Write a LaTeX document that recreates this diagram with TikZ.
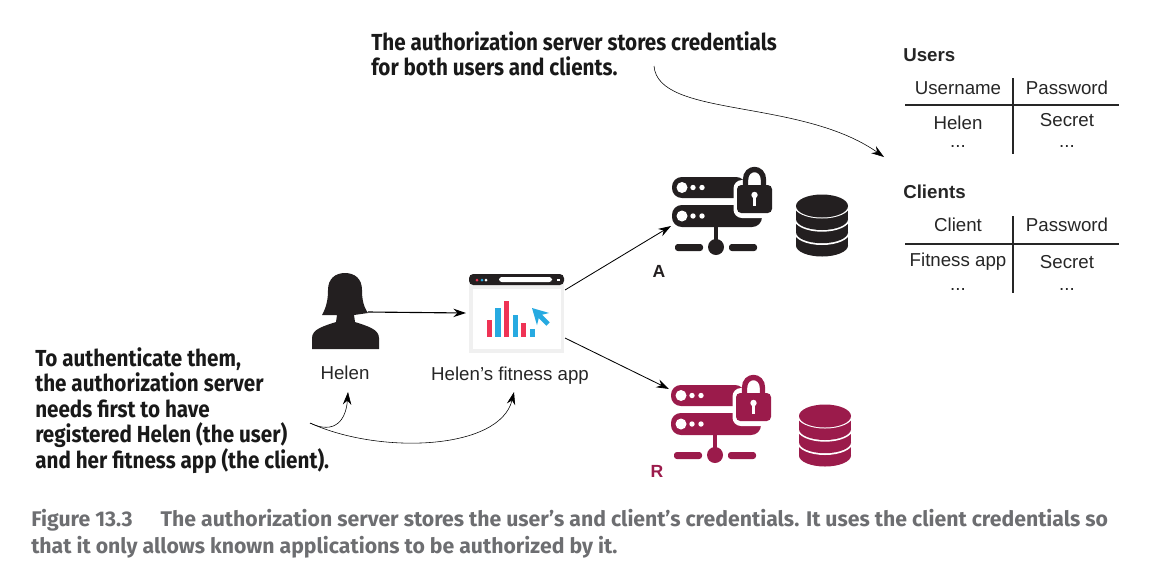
\documentclass[tikz,border=0pt]{standalone}
\usepackage{fontspec}
\usepackage{xcolor}
\usetikzlibrary{arrows.meta}
\setmainfont{Liberation Sans}
\newfontfamily\notefont[FakeStretch=0.89]{Fira Sans}
\newfontfamily\capfont{Fira Sans}
\definecolor{iconblack}{HTML}{231F20}
\definecolor{iconred}{HTML}{9B1B4B}
\definecolor{barred}{HTML}{EF3355}
\definecolor{barblue}{HTML}{27AAE1}
\definecolor{capgrey}{HTML}{6D6E71}
\tikzset{
  >={Stealth[length=9pt,width=6pt]},
  label/.style={font=\fontsize{13.3}{15}\selectfont,text=black!85,inner sep=0pt},
  heading/.style={font=\fontsize{13.3}{15}\selectfont\bfseries,text=black!85,inner sep=0pt,anchor=west},
  note/.style={font=\fontsize{16.5}{18.2}\selectfont\notefont\bfseries,text=black!90,inner sep=0pt,anchor=north west,align=left},
  caption/.style={font=\fontsize{15.1}{19.2}\selectfont\capfont\bfseries,text=capgrey,inner sep=0pt,anchor=north west,align=left},
  rule/.style={line width=0.8pt,black!85},
  servericon/.pic={
    \fill[rounded corners=7pt] (-44,-23) rectangle (30,-2);
    \fill[rounded corners=7pt] (-44,5) rectangle (46,27);
    \fill[white,rounded corners=6pt] (17.5,-20) rectangle (62,18);
    \fill[white] (-34,-12.5) circle [radius=5.5];
    \fill[white] (-23,-12.5) circle [radius=2.7];
    \fill[white] (-14,-12.5) circle [radius=2.7];
    \fill[white] (-34,16) circle [radius=5.5];
    \fill[white] (-23,16) circle [radius=2.7];
    \fill[white] (-14,16) circle [radius=2.7];
    \fill[rounded corners=3pt] (21,-15) rectangle (56,13);
    \draw[line width=3.8pt] (29.5,-14) -- (29.5,-20) .. controls (29.5,-34) and (47.5,-34) .. (47.5,-20) -- (47.5,-14);
    \fill[white] (38.5,-5) circle [radius=3.2];
    \fill[white] (37,-4) rectangle (40,6);
    \fill (-2,26) rectangle (2,47);
    \fill[rounded corners=2pt] (-41,44) rectangle (-13,51);
    \fill[rounded corners=2pt] (13,44) rectangle (41,51);
    \fill (0,47) circle [radius=8];
  },
  dbicon/.pic={
    \foreach \ly in {19.5,6.2,-7}{
      \fill (0,\ly) ellipse [x radius=26,y radius=11];
      \fill (-26,\ly-10) rectangle (26,\ly);
      \fill[white] (0,\ly-13.3) ellipse [x radius=28,y radius=12.8];
    }
    \fill (0,-20) ellipse [x radius=26,y radius=11.5];
  },
}

\begin{document}
\begin{tikzpicture}[x=0.025cm,y=-0.025cm]
\useasboundingbox (0,0) rectangle (1156,575);

\node [note] (topnote) at (371,31) {The authorization server stores credentials\\for both users and clients.};
\node [note] (leftnote) at (35,347) {To authenticate them,\\the authorization server\\needs first to have\\registered Helen (the user)\\and her fitness app (the client).};

\fill [iconblack] (312,349) -- (312,338) .. controls (312,329) and (324,326) .. (336,322) -- (337,315) -- (322,315) .. controls (327,306) and (328,298) .. (328,290) .. controls (328,279) and (335,273) .. (345,273) .. controls (355,273) and (362,279) .. (362,290) .. controls (362,298) and (363,306) .. (368,313) -- (354,315) -- (355,322) .. controls (367,326) and (379,329) .. (379,338) -- (379,349) -- cycle;
\node [label] (helen) at (345,373) {Helen};

\fill [black!6] (469,278) rectangle (564,353);
\fill [white] (473,289) rectangle (561,349);
\fill [iconblack,rounded corners=3pt] (469,285) -- (469,274) -- (564,274) -- (564,285) -- cycle;
\fill [white,rounded corners=2pt] (499,277) rectangle (552,282);
\fill [barred] (477,280) circle [radius=1.5];
\fill [barblue] (482,280) circle [radius=1.5];
\fill [white] (486,280) circle [radius=1.5];
\fill [white] (557,279) rectangle (560,281);
\fill [barred] (487,320) rectangle (492,337);
\fill [barblue] (495,308) rectangle (501,337);
\fill [barred] (504,301) rectangle (509,337);
\fill [barblue] (513,315) rectangle (518,337);
\fill [barred] (521,323) rectangle (526,337);
\fill [barblue] (530,329) rectangle (535,337);
\draw [barblue,line width=3.5pt,-{Stealth[length=11pt,width=12pt]}] (548,324) -- (532,308);
\node [label] (app) at (510,376) {Helen’s fitness app};

\pic [color=iconblack] (serverA) at (716,200) {servericon};
\pic [color=iconblack] (dbA) at (822,226) {dbicon};
\node [label,font=\fontsize{12.5}{14}\selectfont\bfseries,text=iconblack] (labelA) at (659,271) {A};

\pic [color=iconred] (serverR) at (715,408) {servericon};
\pic [color=iconred] (dbR) at (825,436) {dbicon};
\node [label,font=\fontsize{12.5}{14}\selectfont\bfseries,text=iconred] (labelR) at (657,471) {R};

\coordinate (helenout) at (368,312);
\coordinate (appin) at (466,313);
\coordinate (appoutA) at (565,290);
\coordinate (appoutR) at (565,338);
\coordinate (serverAin) at (671,226);
\coordinate (serverRin) at (669,389);
\coordinate (topstart) at (654,66);
\coordinate (topend) at (884,157);
\coordinate (leftstart) at (310,423);
\coordinate (helenin) at (348,392);
\coordinate (appbelow) at (514,392);

\draw [->,thick] (helenout) -- (appin);
\draw [->,semithick] (appoutA) -- (serverAin);
\draw [->,semithick] (appoutR) -- (serverRin);
\draw [->] (topstart) .. controls (658,118) and (800,98) .. (topend);
\draw [->] (leftstart) .. controls (335,435) and (346,420) .. (helenin);
\draw [->] (leftstart) .. controls (380,455) and (500,450) .. (appbelow);

\node [heading] (users) at (903,55) {Users};
\node [label] (username) at (958,88) {Username};
\node [label] (userpass) at (1067,88) {Password};
\node [label] (userhelen) at (958,123) {Helen};
\node [label] (usersecret) at (1067,120) {Secret};
\node [label] (userdotsa) at (958,146) {...};
\node [label] (userdotsb) at (1067,146) {...};
\coordinate (userl) at (905,105);
\coordinate (userr) at (1119,105);
\coordinate (usert) at (1013,78);
\coordinate (userb) at (1013,154);
\draw [rule] (userl) -- (userr);
\draw [rule] (usert) -- (userb);

\node [heading] (clients) at (903,192) {Clients};
\node [label] (client) at (958,225) {Client};
\node [label] (clientpass) at (1067,225) {Password};
\node [label] (clientapp) at (958,262) {Fitness app};
\node [label] (clientsecret) at (1067,262) {Secret};
\node [label] (clientdotsa) at (958,289) {...};
\node [label] (clientdotsb) at (1067,289) {...};
\coordinate (clientl) at (905,244);
\coordinate (clientr) at (1119,244);
\coordinate (clientt) at (1013,216);
\coordinate (clientb) at (1013,293);
\draw [rule] (clientl) -- (clientr);
\draw [rule] (clientt) -- (clientb);

\node [caption] (figcaption) at (31,509) {Figure 13.3\hspace{20pt}The authorization server stores the user’s and client’s credentials. It uses the client credentials so\\that it only allows known applications to be authorized by it.};
\end{tikzpicture}
\end{document}
